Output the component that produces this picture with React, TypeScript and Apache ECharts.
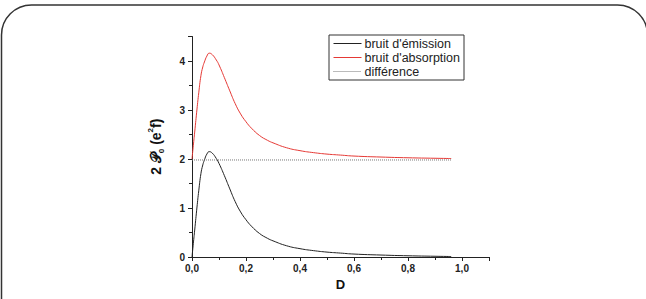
import React, { useEffect, useRef } from "react";
import * as echarts from "echarts";

const dValues = [0, 0.005, 0.01, 0.0185, 0.025, 0.033, 0.04, 0.046, 0.055, 0.064, 0.075, 0.09, 0.1, 0.12, 0.14, 0.16, 0.18, 0.2, 0.22, 0.25, 0.28, 0.3, 0.35, 0.4, 0.45, 0.5, 0.55, 0.6, 0.7, 0.8, 0.9, 0.96];
const emission = [0, 0.28, 0.55, 1.02, 1.35, 1.7, 1.88, 1.98, 2.1, 2.15, 2.12, 2.01, 1.91, 1.66, 1.39, 1.13, 0.92, 0.76, 0.63, 0.48, 0.38, 0.33, 0.23, 0.17, 0.13, 0.1, 0.08, 0.06, 0.04, 0.025, 0.015, 0.01];
const absorption = [2.0, 2.28, 2.55, 3.02, 3.35, 3.7, 3.88, 3.98, 4.1, 4.16, 4.13, 4.02, 3.92, 3.66, 3.39, 3.13, 2.92, 2.76, 2.63, 2.48, 2.38, 2.33, 2.23, 2.17, 2.13, 2.1, 2.08, 2.06, 2.04, 2.025, 2.015, 2.01];
const differenceD = [0, 0.96];
const difference = [1.98, 1.98];
const seriesNames = ["bruit d'émission", "bruit d'absorption", "différence"];
const xTicks = [0, 0.2, 0.4, 0.6, 0.8, 1.0];
const yTicks = [0, 1, 2, 3, 4];

const pairs = (xs: number[], ys: number[]) => xs.map((x, i) => [x, ys[i]]);

export default function App() {
  const ref = useRef<HTMLDivElement>(null);
  useEffect(() => {
    if (!ref.current) return;
    const chart = echarts.init(ref.current, null, { renderer: "svg" });
    const font = "'Liberation Sans', Arial, sans-serif";
    chart.setOption({
      animation: false,
      backgroundColor: "#fff",
      textStyle: { fontFamily: font },
      graphic: [
        {
          type: "rect",
          shape: { x: 1.5, y: 5, width: 646, height: 330, r: 30 },
          style: { fill: "none", stroke: "#333", lineWidth: 1.5 },
          silent: true,
        },
      ],
      grid: { left: 192, top: 36.5, right: 157, bottom: 42, containLabel: false },
      legend: {
        orient: "vertical",
        left: 329,
        top: 35,
        padding: [2, 4, 2, 4],
        itemGap: 1,
        itemWidth: 28,
        itemHeight: 14,
        borderColor: "#333",
        borderWidth: 1,
        backgroundColor: "#fff",
        itemStyle: { opacity: 0 },
        lineStyle: { width: 1 },
        textStyle: { fontFamily: font, fontSize: 12.5, color: "#222", padding: [0, 0, 0, -2] },
        data: seriesNames,
      },
      xAxis: {
        type: "value",
        min: 0,
        max: 1.1,
        interval: 0.2,
        name: "D",
        nameLocation: "middle",
        nameGap: 21,
        nameTextStyle: { fontFamily: font, fontSize: 13, fontWeight: "bold", color: "#111" },
        axisLine: { lineStyle: { color: "#222", width: 1 } },
        axisTick: { show: true, length: 4, inside: false, lineStyle: { color: "#222" } },
        minorTick: { show: true, splitNumber: 2, length: 3, lineStyle: { color: "#222" } },
        splitLine: { show: false },
        axisLabel: {
          fontFamily: font,
          fontSize: 10,
          fontWeight: "bold",
          color: "#222",
          margin: 6,
          customValues: xTicks,
          formatter: (v: number) => v.toFixed(1).replace(".", ","),
        },
      },
      yAxis: {
        type: "value",
        min: 0,
        max: 4.5,
        interval: 1,
        name: "{a|2 𝒫}{s|0}{a| (e}{p|2}{a|f)}",
        nameLocation: "middle",
        nameRotate: 90,
        nameGap: 27,
        nameTextStyle: {
          fontFamily: font,
          fontWeight: "bold",
          color: "#111",
          rich: {
            a: { fontFamily: font, fontSize: 14, fontWeight: "bold", color: "#111", verticalAlign: "middle" },
            s: { fontFamily: font, fontSize: 8, fontWeight: "bold", color: "#111", verticalAlign: "bottom", lineHeight: 19 },
            p: { fontFamily: font, fontSize: 8, fontWeight: "bold", color: "#111", verticalAlign: "top", lineHeight: 19 },
          },
        },
        axisLine: { show: true, lineStyle: { color: "#222", width: 1 } },
        axisTick: { show: true, length: 4, lineStyle: { color: "#222" } },
        minorTick: { show: true, splitNumber: 2, length: 3, lineStyle: { color: "#222" } },
        splitLine: { show: false },
        axisLabel: {
          fontFamily: font,
          fontSize: 10,
          fontWeight: "bold",
          color: "#222",
          margin: 7,
          customValues: yTicks,
        },
      },
      series: [
        {
          name: seriesNames[0],
          type: "line",
          data: pairs(dValues, emission),
          smooth: 0.5,
          showSymbol: false,
          symbol: "none",
          lineStyle: { color: "#222", width: 1 },
          itemStyle: { color: "#222" },
        },
        {
          name: seriesNames[1],
          type: "line",
          data: pairs(dValues, absorption),
          smooth: 0.5,
          showSymbol: false,
          symbol: "none",
          lineStyle: { color: "#e53935", width: 1 },
          itemStyle: { color: "#e53935" },
        },
        {
          name: seriesNames[2],
          type: "line",
          data: pairs(differenceD, difference),
          showSymbol: false,
          symbol: "none",
          lineStyle: { color: "#777", width: 1, type: [1, 1] },
          itemStyle: { color: "#777" },
        },
      ],
    });
    return () => chart.dispose();
  }, []);
  return <div ref={ref} style={{ position: "fixed", left: 0, top: 0, width: 646, height: 299 }} />;
}
